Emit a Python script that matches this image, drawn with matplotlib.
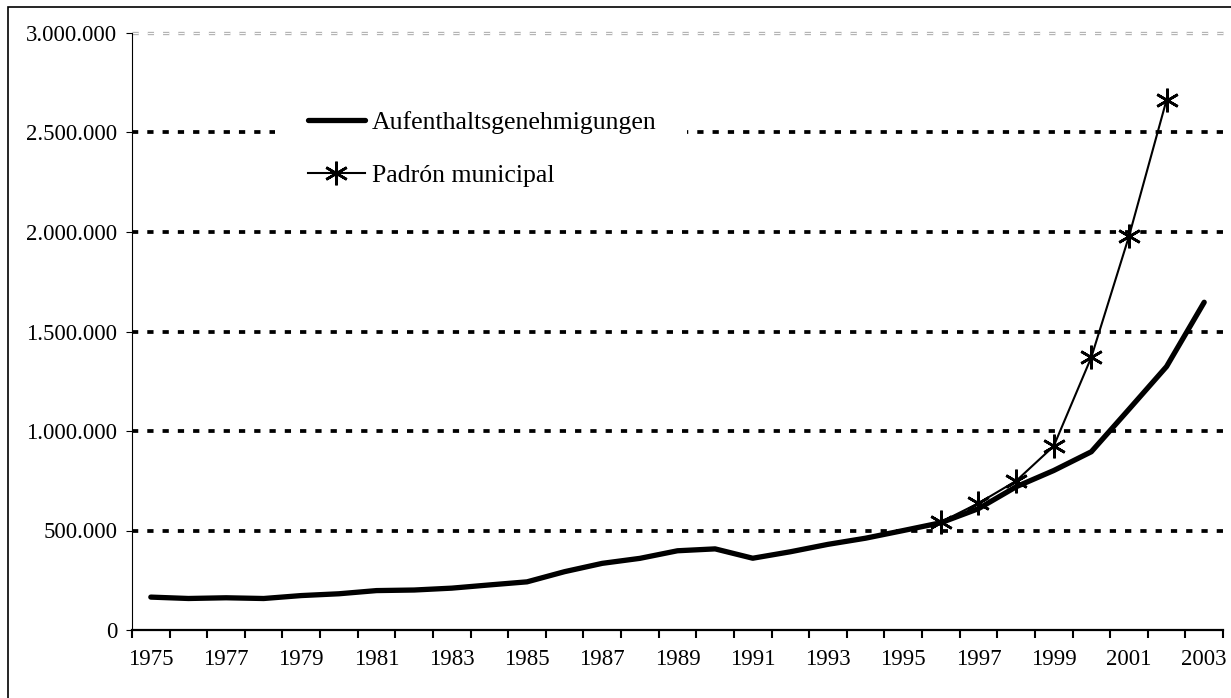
import numpy as np
import matplotlib
matplotlib.use("Agg")
import matplotlib.pyplot as plt
from matplotlib.patches import Rectangle
from matplotlib.ticker import FixedLocator, FuncFormatter

plt.rcParams['font.family'] = ['Liberation Serif', 'DejaVu Serif']
plt.rcParams['lines.scale_dashes'] = False

# Aufenthaltsgenehmigungen 1975-2003
years = list(range(1975, 2004))
aufenthalt = [165289, 158349, 161912, 158244, 173043, 182045, 198042, 200911,
              210350, 226470, 241971, 293208, 334936, 360032, 398147, 407647,
              360655, 393100, 430422, 461364, 499773, 538984, 609813, 719647,
              801329, 895720, 1109060, 1324001, 1647011]

# Padrón municipal
padron_years = list(range(1996, 2003))
padron = [542314, 637085, 748954, 923879, 1370657, 1977946, 2664168]

label_years = years[::2]
y_ticks = [0, 500000, 1000000, 1500000, 2000000, 2500000, 3000000]

W, H = 1231, 698
fig = plt.figure(figsize=(W / 100, H / 100), dpi=100)
ax = fig.add_axes([132 / W, (H - 630) / H, (1223 - 132) / W, (630 - 33) / H])

# gridlines
for v in y_ticks[1:-1]:
    ax.axhline(v, color='black', lw=2.7, dashes=(4.5, 6.5), zorder=1)
ax.axhline(y_ticks[-1], color='#b4b4b4', lw=2.4, dashes=(4.5, 6.5), clip_on=False, zorder=1)
ax.axhline(y_ticks[-1], color='white', lw=0.7, dashes=(4.5, 6.5), clip_on=False, zorder=1.1)

# white area behind the legend
ax.add_patch(Rectangle((1978.3, 2.15e6), 1989.25 - 1978.3, 0.7e6,
                       facecolor='white', edgecolor='none', zorder=2))

ax.plot(years, aufenthalt, color='black', lw=3.8, zorder=3,
        solid_capstyle='round', label='Aufenthaltsgenehmigungen')
ax.plot(padron_years, padron, color='black', lw=1.5, marker=(6, 2, 0),
        ms=17, mew=1.9, zorder=4, label='Padrón municipal')

ax.set_xlim(1974.5, 2003.5)
ax.set_ylim(0, 3000000)

ax.xaxis.set_major_locator(FixedLocator(np.arange(1974.5, 2004, 1)))
ax.set_xticks(label_years, labels=[str(y) for y in label_years], minor=True)
ax.tick_params(axis='x', which='major', direction='out', length=5.8, width=1.5,
               labelbottom=False)
ax.tick_params(axis='x', which='minor', length=0, pad=14, labelsize=16.5)

ax.set_yticks(y_ticks)
ax.yaxis.set_major_formatter(FuncFormatter(lambda v, p: f"{v:,.0f}".replace(',', '.')))
ax.tick_params(axis='y', length=4.5, width=0.8, pad=6, labelsize=16.5)

for s in ['top', 'right']:
    ax.spines[s].set_visible(False)
ax.spines['left'].set_linewidth(0.8)
ax.spines['bottom'].set_linewidth(1.6)

ax.legend(loc='upper left', bbox_to_anchor=((308 - 132) / 1091, (630 - 111) / 597),
          frameon=False, borderpad=0, borderaxespad=0, handlelength=2.2,
          handletextpad=0.3, labelspacing=1.15, fontsize=18.5, numpoints=1)

# outer frame
fig.add_artist(Rectangle((8 / W, -0.05), 1.1, (H - 6.5) / H + 0.05, fill=False,
                         edgecolor='black', lw=1.2, transform=fig.transFigure,
                         clip_on=False))

fig.savefig('out.png', dpi=100)
